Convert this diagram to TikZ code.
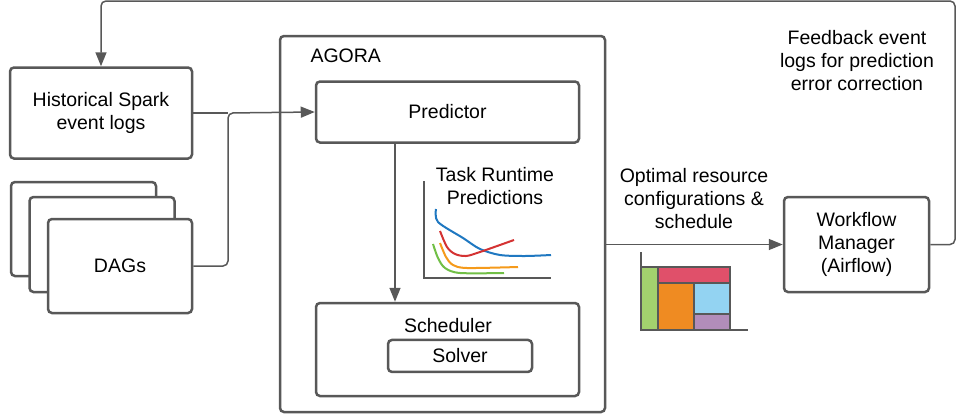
\documentclass[tikz,border=0pt]{standalone}
\usepackage{fontspec}
\setmainfont{Liberation Sans}
\usetikzlibrary{arrows.meta,positioning}
\definecolor{linegray}{HTML}{585858}
\definecolor{cblue}{HTML}{1F78C1}
\definecolor{cred}{HTML}{D43232}
\definecolor{corange}{HTML}{F59A1B}
\definecolor{cgreen}{HTML}{71BF46}
\definecolor{ggreen}{HTML}{A3D16E}
\definecolor{gred}{HTML}{E0506A}
\definecolor{gorange}{HTML}{EF8B22}
\definecolor{gblue}{HTML}{93D3F2}
\definecolor{gpurple}{HTML}{B28DBA}
\begin{document}
\begin{tikzpicture}[x=1pt,y=-1pt,>={Triangle[length=14pt,width=11pt]},font=\fontsize{19.5}{23}\selectfont]

      \tikzstyle{box}=[draw=linegray,line width=2.5pt,rounded corners=4pt,fill=white,inner sep=0pt,align=center]
      \tikzstyle{flow}=[draw=linegray,line width=1.5pt,rounded corners=5pt]
      \tikzstyle{curve}=[line width=2pt]
      \tikzstyle{bar}=[draw=linegray,line width=1.5pt]

        \useasboundingbox (0,0) rectangle (956,418);

        \node [box,minimum width=182pt,minimum height=91pt] (hist) at (101,113) {Historical Spark\\event logs}; %inputs
        \node [box,minimum width=145pt,minimum height=94pt] (dagsc) at (83.5,229) {};
        \node [box,minimum width=145pt,minimum height=95pt] (dagsb) at (102,244.5) {};
        \node [box,minimum width=144pt,minimum height=94pt] (dags) at (120,266) {DAGs};

        \node [box,minimum width=325pt,minimum height=376pt] (agora) at (442.5,224) {}; %AGORA frame
        \node [anchor=west] (agoralabel) at (307,56) {AGORA};
        \node [box,minimum width=263pt,minimum height=61pt] (pred) at (447.5,112) {Predictor};
        \node [box,minimum width=263pt,minimum height=93pt] (sched) at (447.5,349.5) {};
        \node (schedlabel) at (448,326) {Scheduler};
        \node [box,minimum width=144pt,minimum height=32pt,below=2pt of schedlabel,xshift=12pt] (solver) {Solver};
        \node [align=center] (taskrt) at (495,186) {Task Runtime\\Predictions};

        \node [box,minimum width=145pt,minimum height=95pt] (wf) at (856.5,244.5) {Workflow\\Manager\\(Airflow)};
        \node [align=center] (optimal) at (694,199) {Optimal resource\\configurations \&\\schedule};
        \node [align=center] (feedback) at (857,61) {Feedback event\\logs for prediction\\error correction};

        \coordinate (join) at (228,113);
        \coordinate (fbcorner) at (955,1);

        \draw [flow,->] (dags.east) -| (join) -- (pred.west);
        \draw [flow] (hist.east) -- (join);
        \draw [flow,->] ([xshift=-52.5pt]pred.south) -- ([xshift=-52.5pt]sched.north);
        \draw [flow,->] (agora.east |- wf.west) -- (wf.west); %schedule out
        \draw [flow,->] (wf.east) -| (fbcorner) -| (hist.north); %feedback loop

        % runtime chart
        \draw [draw=linegray,line width=2pt] (424,181) -- (424,277.5) -- (551,277.5);
        \draw [curve,cblue] plot[smooth] coordinates {(436,209) (438,222) (463,238) (480,249) (500,255) (525,256) (551,255)};
        \draw [curve,cred] plot[smooth] coordinates {(440,231) (447,247) (455,254) (466,256) (480,252) (514,240)};
        \draw [curve,corange] plot[smooth] coordinates {(440,243) (446,257) (453,265) (467,268) (518,267)};
        \draw [curve,cgreen] plot[smooth] coordinates {(433,244) (438,258) (445,268) (460,273) (504,273)};

        % schedule chart
        \draw [bar,fill=ggreen] (641,267) rectangle (658,330);
        \draw [bar,fill=gred] (658,267) rectangle (730,283);
        \draw [bar,fill=gorange] (658,283) rectangle (694,330);
        \draw [bar,fill=gblue] (694,283) rectangle (730,314);
        \draw [bar,fill=gpurple] (694,314) rectangle (730,330);
        \draw [draw=linegray,line width=1.5pt] (641,252) -- (641,330) -- (748,330);

\end{tikzpicture}
\end{document}
